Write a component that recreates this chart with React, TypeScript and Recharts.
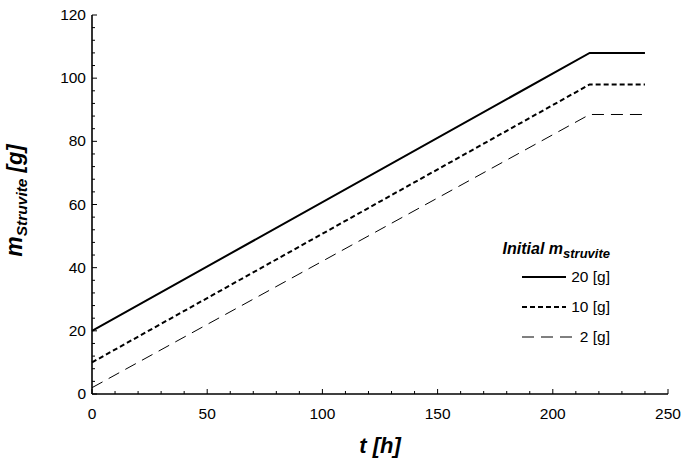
import React from 'react';
import { LineChart, Line, XAxis, YAxis, Legend } from 'recharts';

// Time points (h) at which the struvite mass is given
const hours = [0, 216, 240];
// Struvite mass (g) for each initial seed amount
const initial20 = [20, 108, 108];
const initial10 = [10, 98, 98];
const initial2 = [2, 88.5, 88.5];
const seriesNames = ['20 [g]', '10 [g]', '2 [g]'];

// Axis ticks
const xMajorTicks = [0, 50, 100, 150, 200, 250];
const yMajorTicks = [0, 20, 40, 60, 80, 100, 120];
const xMinorStep = 10;
const yMinorStep = 4;

const FONT = '"Liberation Sans", Arial, sans-serif';
const W = 692;
const H = 458;
const MARGIN = { top: 15, right: 24, bottom: 0, left: 0 };
const Y_AXIS_W = 92;
const X_AXIS_H = 64;

const rows = hours.map((t, i) => ({
  t,
  m20: initial20[i],
  m10: initial10[i],
  m2: initial2[i],
}));

const seriesStyle = [
  { key: 'm20', width: 2, dash: undefined as string | undefined },
  { key: 'm10', width: 2, dash: '5 3' },
  { key: 'm2', width: 1, dash: '12 7' },
];

const span = (max: number, step: number) => {
  const out: number[] = [];
  for (let v = 0; v <= max + 1e-9; v += step) out.push(v);
  return out;
};
const xTicks = span(250, xMinorStep);
const yTicks = span(120, yMinorStep);

const MAJOR = 5;
const MINOR = 3;

const BottomTick = (p: any) => {
  const v = p.payload.value;
  const major = xMajorTicks.includes(v);
  return (
    <g>
      <line x1={p.x} x2={p.x} y1={p.y} y2={p.y - (major ? MAJOR : MINOR)} stroke="#000" strokeWidth={1} />
      {major && (
        <text x={p.x} y={p.y + 25} textAnchor="middle" fontSize={15.5} fontFamily={FONT} fill="#000">
          {v}
        </text>
      )}
    </g>
  );
};

const TopTick = (p: any) => {
  const v = p.payload.value;
  const major = xMajorTicks.includes(v);
  return <line x1={p.x} x2={p.x} y1={p.y} y2={p.y + (major ? MAJOR : MINOR)} stroke="#000" strokeWidth={1} />;
};

const LeftTick = (p: any) => {
  const v = p.payload.value;
  const major = yMajorTicks.includes(v);
  return (
    <g>
      <line x1={p.x} x2={p.x + (major ? MAJOR : MINOR)} y1={p.y} y2={p.y} stroke="#000" strokeWidth={1} />
      {major && (
        <text x={p.x - 6} y={p.y + 5} textAnchor="end" fontSize={15.5} fontFamily={FONT} fill="#000">
          {v}
        </text>
      )}
    </g>
  );
};

const RightTick = (p: any) => {
  const v = p.payload.value;
  const major = yMajorTicks.includes(v);
  return <line x1={p.x} x2={p.x - (major ? MAJOR : MINOR)} y1={p.y} y2={p.y} stroke="#000" strokeWidth={1} />;
};

const XTitle = (p: any) => {
  const vb = p.viewBox;
  return (
    <text x={vb.x + vb.width / 2} y={vb.y + 59} textAnchor="middle" fontSize={22} fontWeight="bold" fontStyle="italic" fontFamily={FONT} fill="#000">
      t [h]
    </text>
  );
};

const YTitle = (p: any) => {
  const vb = p.viewBox;
  const cx = 22;
  const cy = vb.y + vb.height / 2 - 4;
  return (
    <text transform={`translate(${cx},${cy}) rotate(-90)`} textAnchor="middle" fontWeight="bold" fontStyle="italic" fontFamily={FONT} fill="#000">
      <tspan fontSize={23}>m</tspan>
      <tspan fontSize={15.5} dy={5}>Struvite</tspan>
      <tspan fontSize={22} dy={-5}> [g]</tspan>
    </text>
  );
};

const LegendBox = () => (
  <svg width={140} height={125} style={{ overflow: 'visible' }}>
    <text x={120} y={26} textAnchor="end" fontWeight="bold" fontStyle="italic" fontFamily={FONT} fill="#000">
      <tspan fontSize={16}>Initial m</tspan>
      <tspan fontSize={13} dy={4}>struvite</tspan>
    </text>
    {seriesNames.map((name, i) => {
      const y = 49 + i * 30;
      const st = seriesStyle[i];
      return (
        <g key={name}>
          <line x1={32} x2={i === 2 ? 82 : 76} y1={y} y2={y} stroke="#000" strokeWidth={st.width} strokeDasharray={st.dash} />
          <text x={120} y={y + 5} textAnchor="end" fontSize={15.5} fontFamily={FONT} fill="#000">
            {name}
          </text>
        </g>
      );
    })}
  </svg>
);

export default function App() {
  return (
    <div style={{ position: 'absolute', left: 0, top: 0, width: W, height: H, background: '#fff' }}>
      <LineChart width={W} height={H} data={rows} margin={MARGIN}>
        <XAxis
          xAxisId="b"
          dataKey="t"
          type="number"
          domain={[0, 250]}
          ticks={xTicks}
          interval={0}
          tickSize={0}
          tickMargin={0}
          tickLine={false}
          tick={BottomTick}
          height={X_AXIS_H}
          axisLine={{ stroke: '#000', strokeWidth: 1.6 }}
          label={<XTitle />}
        />
        <XAxis
          xAxisId="t"
          orientation="top"
          dataKey="t"
          type="number"
          domain={[0, 250]}
          ticks={xTicks}
          interval={0}
          tickSize={0}
          tickMargin={0}
          tickLine={false}
          tick={TopTick}
          height={0}
          axisLine={{ stroke: '#000', strokeWidth: 1.6 }}
        />
        <YAxis
          yAxisId="l"
          type="number"
          domain={[0, 120]}
          ticks={yTicks}
          interval={0}
          tickSize={0}
          tickMargin={0}
          tickLine={false}
          tick={LeftTick}
          width={Y_AXIS_W}
          axisLine={{ stroke: '#000', strokeWidth: 1.6 }}
          label={<YTitle />}
        />
        <YAxis
          yAxisId="r"
          orientation="right"
          type="number"
          domain={[0, 120]}
          ticks={yTicks}
          interval={0}
          tickSize={0}
          tickMargin={0}
          tickLine={false}
          tick={RightTick}
          width={0}
          axisLine={{ stroke: '#000', strokeWidth: 1.6 }}
        />
        {seriesStyle.map((s) => (
          <Line
            key={s.key}
            xAxisId="b"
            yAxisId="l"
            type="linear"
            dataKey={s.key}
            stroke="#000"
            strokeWidth={s.width}
            strokeDasharray={s.dash}
            dot={false}
            activeDot={false}
            isAnimationActive={false}
          />
        ))}
        <Legend
          layout="vertical"
          align="center"
          verticalAlign="middle"
          content={<LegendBox />}
          wrapperStyle={{ position: 'absolute', left: 490, top: 228, width: 140, height: 125 }}
        />
      </LineChart>
    </div>
  );
}
